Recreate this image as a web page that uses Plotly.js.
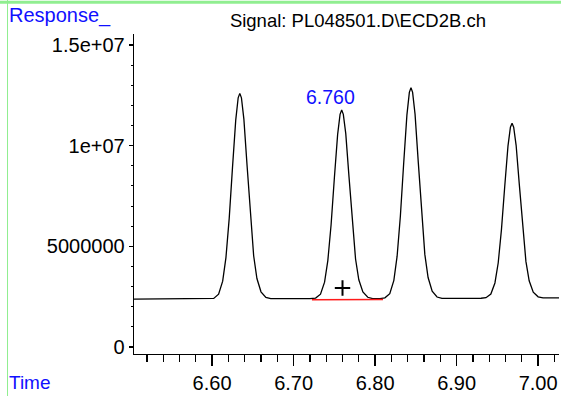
<!DOCTYPE html>
<html>
<head>
<meta charset="utf-8">
<script src="https://cdn.plot.ly/plotly-3.0.1.min.js"></script>
<style>html,body{margin:0;padding:0;background:#fff;}#chart{width:561px;height:396px;}</style>
</head>
<body>
<div id="chart"></div>
<script>
// Chromatogram trace (time in min, response in counts)
const timeMin = [6.5042, 6.596,
  6.602, 6.608, 6.613, 6.617, 6.621, 6.625, 6.629, 6.632, 6.634, 6.636, 6.639, 6.643, 6.647, 6.651, 6.655, 6.660, 6.666, 6.672,
  6.720,
  6.727, 6.733, 6.738, 6.742, 6.746, 6.750, 6.754, 6.757, 6.759, 6.761, 6.764, 6.768, 6.772, 6.776, 6.780, 6.785, 6.791, 6.797,
  6.806,
  6.812, 6.818, 6.823, 6.827, 6.831, 6.835, 6.839, 6.842, 6.844, 6.846, 6.849, 6.853, 6.857, 6.861, 6.865, 6.870, 6.876, 6.882,
  6.930,
  6.936, 6.942, 6.947, 6.951, 6.955, 6.959, 6.963, 6.966, 6.968, 6.970, 6.973, 6.977, 6.981, 6.985, 6.989, 6.994, 7.000, 7.006,
  7.0256];
const response = [2.38e6, 2.38e6,
  2.41e6, 2.62e6, 3.27e6, 4.44e6, 6.39e6, 8.90e6, 11.27e6, 12.38e6, 12.60e6, 12.38e6, 11.32e6, 8.97e6, 6.47e6, 4.53e6, 3.40e6, 2.74e6, 2.46e6, 2.40e6,
  2.40e6,
  2.43e6, 2.62e6, 3.22e6, 4.29e6, 6.07e6, 8.38e6, 10.55e6, 11.56e6, 11.77e6, 11.56e6, 10.60e6, 8.44e6, 6.15e6, 4.37e6, 3.34e6, 2.73e6, 2.47e6, 2.40e6,
  2.40e6,
  2.44e6, 2.65e6, 3.31e6, 4.51e6, 6.51e6, 9.09e6, 11.52e6, 12.65e6, 12.88e6, 12.65e6, 11.57e6, 9.16e6, 6.59e6, 4.60e6, 3.45e6, 2.77e6, 2.48e6, 2.41e6,
  2.42e6,
  2.45e6, 2.63e6, 3.18e6, 4.17e6, 5.83e6, 7.96e6, 9.98e6, 10.92e6, 11.11e6, 10.92e6, 10.02e6, 8.03e6, 5.90e6, 4.25e6, 3.29e6, 2.72e6, 2.49e6, 2.44e6,
  2.44e6];

// Integration baseline of the labelled peak
const baseTime = [6.7225, 6.8097];
const baseResp = [2.34e6, 2.36e6];

// Labelled peak
const peakTime = [6.760];
const peakMark = [2.93e6];
const peakLabel = "6.760";
const labelTime = 6.7458;
const labelResp = 12.42e6;

// Axis ticks
const yTickVals = [0, 5e6, 1e7, 1.5e7];
const yTickText = ["0", "5000000", "1e+07", "1.5e+07"];
const xRange = [6.5042, 7.0256];
const yRange = [-0.35e6, 15.55e6];

const titleText = "Signal: PL048501.D\\ECD2B.ch";
const yLabel = "Response_";
const xLabel = "Time";

const FONT = "Liberation Sans, Arial, sans-serif";
const BLUE = "#1010ff";
const GREEN = "rgb(144,238,144)";

const traces = [
  {x: timeMin, y: response, type: "scatter", mode: "lines",
   line: {color: "#000", width: 1.3}, hoverinfo: "skip"},
  {x: baseTime, y: baseResp, type: "scatter", mode: "lines",
   line: {color: "#ff1a1a", width: 1.5}, hoverinfo: "skip"},
  {x: peakTime, y: peakMark, type: "scatter", mode: "markers",
   marker: {symbol: "cross-thin-open", size: 11, color: "#000", line: {color: "#000", width: 2}}, hoverinfo: "skip"}
];

const layout = {
  width: 561, height: 396,
  margin: {l: 134, r: 2, t: 34, b: 42, pad: 0},
  paper_bgcolor: "#fff", plot_bgcolor: "#fff",
  showlegend: false,
  font: {family: FONT, size: 20, color: "#000"},
  title: {text: titleText, font: {family: FONT, size: 18.5, color: "#000"},
          xref: "container", x: 0.638, xanchor: "center",
          yref: "container", y: 0.947, yanchor: "middle"},
  xaxis: {range: xRange, showgrid: false, zeroline: false,
          showline: true, linecolor: "#000", linewidth: 1.3,
          ticks: "outside", ticklen: 11, tickwidth: 1.3, tickcolor: "#000",
          tick0: 6.6, dtick: 0.1, tickformat: ".2f",
          tickfont: {family: FONT, size: 20, color: "#000"},
          minor: {dtick: 0.02, tick0: 6.6, ticks: "outside", ticklen: 7, tickwidth: 1.3, tickcolor: "#000"}},
  yaxis: {range: yRange, showgrid: false, zeroline: false,
          showline: true, linecolor: "#000", linewidth: 1.3,
          ticks: "outside", ticklen: 4, tickwidth: 1.3, tickcolor: "#000",
          tickmode: "array", tickvals: yTickVals, ticktext: yTickText,
          tickfont: {family: FONT, size: 20, color: "#000"},
          minor: {dtick: 1e6, tick0: 0, ticks: "outside", ticklen: 2, tickwidth: 1, tickcolor: "#000"}},
  annotations: [
    {text: peakLabel, x: labelTime, y: labelResp, xref: "x", yref: "y", showarrow: false,
     font: {family: FONT, size: 19.5, color: BLUE}, xanchor: "center", yanchor: "middle"},
    {text: yLabel, x: -0.2985, y: 1.059, xref: "paper", yref: "paper", showarrow: false,
     font: {family: FONT, size: 20, color: BLUE}, xanchor: "left", yanchor: "middle"},
    {text: xLabel, x: -0.300, y: -0.0906, xref: "paper", yref: "paper", showarrow: false,
     font: {family: FONT, size: 19, color: BLUE}, xanchor: "left", yanchor: "middle"}
  ],
  shapes: [
    {type: "line", xref: "paper", yref: "paper", x0: -0.5, x1: 1.5, y0: 1.099, y1: 1.099,
     line: {color: GREEN, width: 3}},
    {type: "line", xref: "paper", yref: "paper", x0: -0.2976, x1: -0.2976, y0: 1.2, y1: -0.2,
     line: {color: GREEN, width: 1}}
  ]
};

Plotly.newPlot("chart", traces, layout, {staticPlot: true, displayModeBar: false});
</script>
</body>
</html>
